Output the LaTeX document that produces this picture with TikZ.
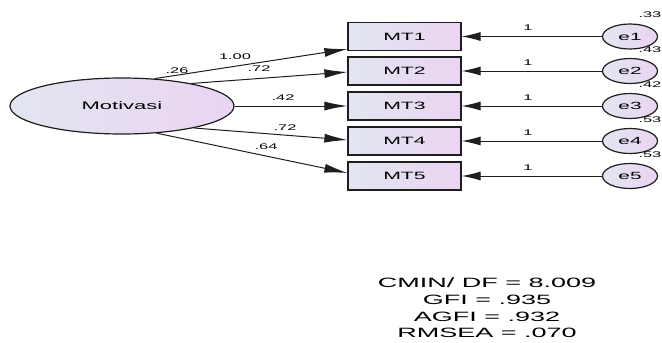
\documentclass[tikz,border=0pt]{standalone}
\usepackage{fontspec}
\setmainfont{Liberation Sans}[FakeStretch=2.0]
\usetikzlibrary{shapes.geometric,arrows.meta,calc}
\definecolor{fillL}{RGB}{226,230,240}
\definecolor{fillR}{RGB}{234,212,242}
\definecolor{ln}{RGB}{30,30,30}
\begin{document}
\begin{tikzpicture}[x=1pt,y=-1pt,
  obs/.style={rectangle,draw=ln,line width=1.2pt,minimum width=113pt,minimum height=28pt,inner sep=0pt,left color=fillL,right color=fillR,font=\fontsize{10.6}{12}\selectfont},
  lat/.style={ellipse,draw=ln,line width=1.2pt,minimum width=224pt,minimum height=56pt,inner sep=0pt,left color=fillL,right color=fillR,font=\fontsize{11}{12}\selectfont},
  err/.style={ellipse,draw=ln,line width=1.2pt,minimum width=55pt,minimum height=25pt,inner sep=0pt,left color=fillL,right color=fillR,font=\fontsize{10.4}{12}\selectfont},
  load/.style={draw=ln,line width=1pt,-{Latex[length=23pt,width=9pt]}},
  eload/.style={draw=ln,line width=1pt,-{Latex[length=19pt,width=9pt]}},
  lbl/.style={inner sep=0pt,font=\fontsize{8.2}{9}\selectfont},
  stat/.style={inner sep=0pt,align=center,font=\fontsize{13.5}{16.7}\selectfont}]
\useasboundingbox (0,0) rectangle (662,343);
\clip (0,0) rectangle (662,343);

\node[lat] (mot) at (122,106) {Motivasi};

\foreach \i/\y in {1/36.5,2/71,3/106,4/141,5/176}{
  \node[obs] (MT\i) at (404.5,\y) {MT\i};
  \node[err] (e\i) at (630,\y) {e\i};
  \draw[eload] (e\i.west) -- (MT\i.east);
  \node[lbl] (one\i) at (528,\y-8.5) {1};
}

\node[lbl,anchor=east] (v1) at (661.5,15) {.33};
\node[lbl,anchor=east] (v2) at (661.5,50) {.43};
\node[lbl,anchor=east] (v3) at (661.5,85) {.42};
\node[lbl,anchor=east] (v4) at (661.5,120) {.53};
\node[lbl,anchor=east] (v5) at (661.5,155) {.53};

\draw[load] (mot.40) -- ($(MT1.west)+(0,12.5)$);
\draw[load] (mot.18.7) -- ($(MT2.west)+(0,1)$);
\draw[load] (mot.east) -- (MT3.west);
\draw[load] (mot.-17.4) -- ($(MT4.west)+(0,-1)$);
\draw[load] (mot.-38.7) -- ($(MT5.west)+(0,-3)$);

\node[lbl] (l1) at (235,57) {1.00};
\node[lbl] (l2) at (259,69) {.72};
\node[lbl] (l3) at (283,98) {.42};
\node[lbl] (l4) at (285,128) {.72};
\node[lbl] (l5) at (266,147) {.64};
\node[lbl] (var) at (177,71) {.26};

\node[stat] (fit) at (487,308) {CMIN/ DF = 8.009\\GFI = .935\\AGFI = .932\\RMSEA = .070};
\end{tikzpicture}
\end{document}
